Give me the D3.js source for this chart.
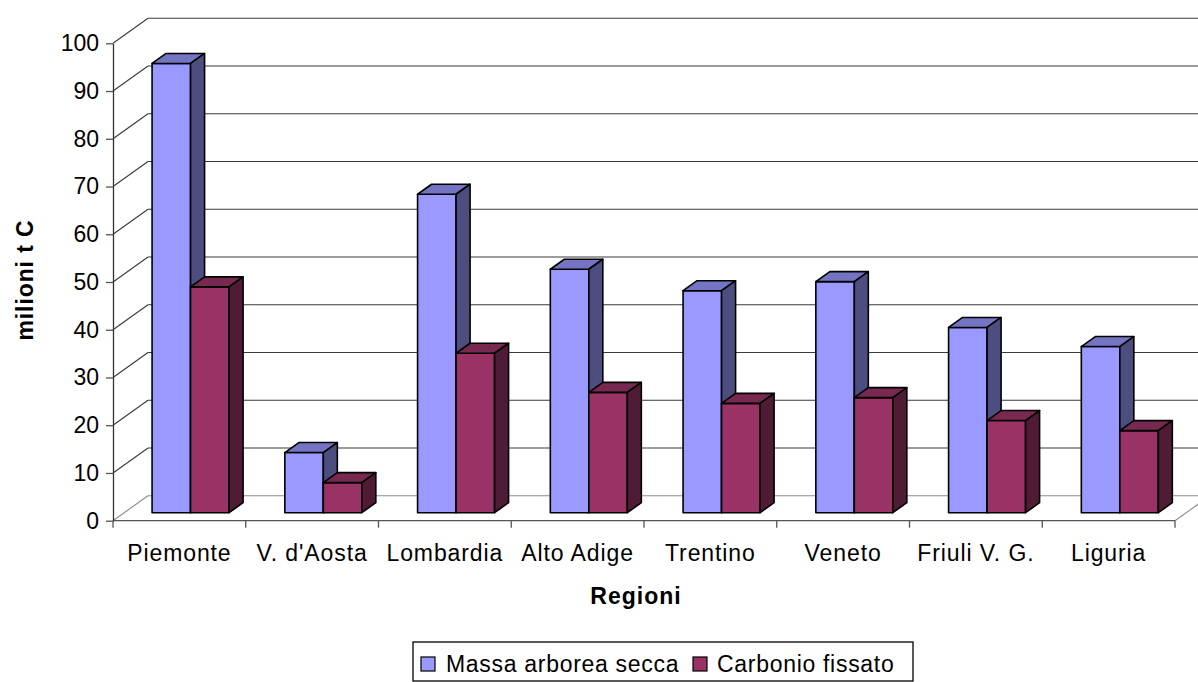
<!DOCTYPE html>
<html><head><meta charset="utf-8">
<script src="https://cdn.jsdelivr.net/npm/d3@7"></script>
<style>
body{margin:0;background:#fff;}
svg text{font-family:"Liberation Sans",Arial,sans-serif;fill:#000;}
</style>
</head><body>
<svg id="c" width="1198" height="682"></svg>
<script>
// ---- data ----
const categories = ["Piemonte","V. d'Aosta","Lombardia","Alto Adige","Trentino","Veneto","Friuli V. G.","Liguria"];
const seriesNames = ["Massa arborea secca","Carbonio fissato"];
const massa = [94.1, 12.6, 66.7, 51.0, 46.5, 48.4, 38.8, 34.8];
const carbonio = [47.3, 6.3, 33.4, 25.2, 22.9, 24.1, 19.3, 17.2];
const yTicks = [0,10,20,30,40,50,60,70,80,90,100];
const xTitle = "Regioni";
const yTitle = "milioni t C";

// ---- styles ----
const colors = [
  {front:"#9999FF", top:"#7474C2", side:"#4D4D80"},
  {front:"#993366", top:"#77294F", side:"#4F1B35"}
];
const DX = 35, DY = 25;       // depth of the 3D box
const Z0 = 0.32, Z1 = 0.72;   // depth span of bars

const svg = d3.select("#c");
const x = d3.scaleBand().domain(categories).range([113, 1175]).paddingInner(0).paddingOuter(0);
const xs = d3.scaleBand().domain(seriesNames).range([0, x.bandwidth()]).paddingInner(0).paddingOuter(0.724);
const y = d3.scaleLinear().domain([0, 100]).range([520.7, 43.3]);

const pt = (px, v, z) => [px + z*DX, y(v) - z*DY];
const poly = pts => "M" + pts.map(p => p.join(",")).join("L") + "Z";

// back wall gridlines
const g = svg.append("g");
yTicks.forEach(t => {
  const c = t === 0 ? "#8c8c8c" : "#3a3a3a";
  const a = pt(113, t, 0), b = pt(113, t, 1), e = pt(1240, t, 1);
  g.append("line").attr("x1", a[0]).attr("y1", a[1]).attr("x2", b[0]).attr("y2", b[1])
    .attr("stroke", c).attr("stroke-width", 1.1);
  g.append("line").attr("x1", b[0]).attr("y1", b[1]).attr("x2", e[0]).attr("y2", e[1])
    .attr("stroke", c).attr("stroke-width", 1.1);
});
// floor right diagonal
{
  const a = pt(1175, 0, 0), b = pt(1175, 0, 1);
  g.append("line").attr("x1", a[0]).attr("y1", a[1]).attr("x2", b[0]).attr("y2", b[1])
    .attr("stroke", "#8c8c8c").attr("stroke-width", 1.1);
}
// front floor edge
g.append("line").attr("x1", 113).attr("y1", y(0)).attr("x2", 1175).attr("y2", y(0))
  .attr("stroke", "#555").attr("stroke-width", 1.3);
// category ticks
categories.concat([null]).forEach((c, i) => {
  const px = 113 + i * x.step();
  g.append("line").attr("x1", px).attr("y1", y(0)).attr("x2", px).attr("y2", y(0) + 7)
    .attr("stroke", "#555").attr("stroke-width", 1.3);
});

// y axis
const yAxis = d3.axisLeft(y).tickValues(yTicks).tickSize(7).tickPadding(7).tickSizeOuter(0);
const ya = svg.append("g").attr("transform", "translate(113,0)").call(yAxis);
ya.select(".domain").attr("stroke", "#333").attr("stroke-width", 1.3);
ya.selectAll(".tick line").attr("stroke", "#555").attr("stroke-width", 1.3);
ya.selectAll(".tick text").attr("font-size", 23).attr("letter-spacing", "0px")
  .attr("font-family", "Liberation Sans, Arial, sans-serif").attr("fill", "#000");

// bars
const series = [massa, carbonio];
const bars = svg.append("g");
categories.forEach((cat, i) => {
  seriesNames.forEach((sn, s) => {
    const v = series[s][i];
    const x0 = x(cat) + xs(sn), x1 = x0 + xs.bandwidth();
    const col = colors[s];
    const faces = [
      {d: [pt(x0,0,Z0), pt(x1,0,Z0), pt(x1,v,Z0), pt(x0,v,Z0)], f: col.front},
      {d: [pt(x0,v,Z0), pt(x1,v,Z0), pt(x1,v,Z1), pt(x0,v,Z1)], f: col.top},
      {d: [pt(x1,0,Z0), pt(x1,0,Z1), pt(x1,v,Z1), pt(x1,v,Z0)], f: col.side}
    ];
    faces.forEach(fc => bars.append("path").attr("d", poly(fc.d)).attr("fill", fc.f)
      .attr("stroke", "#000").attr("stroke-width", 1.6).attr("stroke-linejoin", "round"));
  });
});

// category labels
svg.append("g").selectAll("text").data(categories).join("text")
  .attr("x", d => x(d) + x.bandwidth()/2).attr("y", 561)
  .attr("text-anchor", "middle").attr("font-size", 23).attr("letter-spacing", "0.9px")
  .text(d => d);

// axis titles
svg.append("text").attr("x", 636).attr("y", 604).attr("text-anchor", "middle")
  .attr("font-size", 23).attr("font-weight", "bold").attr("letter-spacing", "1px").text(xTitle);
svg.append("text").attr("transform", "translate(33,280) rotate(-90)").attr("text-anchor", "middle")
  .attr("font-size", 23).attr("font-weight", "bold").attr("letter-spacing", "0.9px").text(yTitle);

// legend
const lg = svg.append("g");
lg.append("rect").attr("x", 413).attr("y", 642).attr("width", 500).attr("height", 39)
  .attr("fill", "#fff").attr("stroke", "#000").attr("stroke-width", 1.3);
const legendItems = [{x: 421, tx: 446}, {x: 693, tx: 717}];
seriesNames.forEach((sn, s) => {
  lg.append("rect").attr("x", legendItems[s].x).attr("y", 657).attr("width", 14).attr("height", 14)
    .attr("fill", colors[s].front).attr("stroke", "#000").attr("stroke-width", 1.2);
  lg.append("text").attr("x", legendItems[s].tx).attr("y", 672).attr("font-size", 23)
    .attr("letter-spacing", "0.7px").text(sn);
});
</script>
</body></html>
